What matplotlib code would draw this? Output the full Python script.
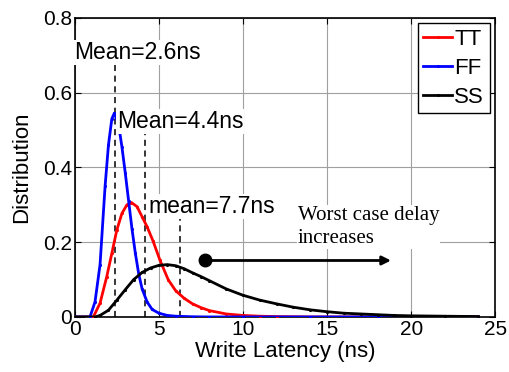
import matplotlib
matplotlib.use("Agg")
import matplotlib.pyplot as plt

plt.rcParams["font.family"] = ["Liberation Sans", "DejaVu Sans"]

# Write latency distributions per process corner (ns vs. probability density)
ff_x = [0.0, 0.5, 0.9, 1.2, 1.5, 1.8, 2.0, 2.2, 2.35, 2.6, 2.8, 3.0, 3.2, 3.4, 3.6,
        3.8, 4.0, 4.3, 4.6, 5.0, 5.5, 6.0, 7.0, 8.0, 10.0, 14.0, 18.0, 24.0]
ff_y = [0.0, 0.0, 0.0, 0.04, 0.14, 0.35, 0.46, 0.53, 0.545, 0.515, 0.455, 0.385, 0.31,
        0.235, 0.17, 0.115, 0.075, 0.04, 0.02, 0.01, 0.004, 0.002, 0.0005, 0.0, 0.0,
        0.0, 0.0, 0.0]

tt_x = [0.0, 0.5, 1.1, 1.5, 1.9, 2.2, 2.5, 2.8, 3.1, 3.37, 3.7, 4.0, 4.3, 4.66, 5.06,
        5.56, 6.0, 6.5, 7.0, 7.5, 8.0, 9.0, 10.0, 11.0, 12.0, 14.0, 18.0, 24.0]
tt_y = [0.0, 0.0, 0.0, 0.037, 0.108, 0.17, 0.233, 0.277, 0.30, 0.306, 0.295, 0.268,
        0.241, 0.202, 0.152, 0.099, 0.07, 0.05, 0.035, 0.025, 0.017, 0.008, 0.004,
        0.002, 0.001, 0.0, 0.0, 0.0]

ss_x = [0.0, 0.5, 1.2, 1.5, 2.0, 2.5, 3.0, 3.5, 4.0, 4.5, 5.0, 5.5, 6.0, 6.5, 7.0,
        7.5, 8.0, 9.0, 10.0, 11.0, 12.0, 13.0, 14.0, 15.0, 16.0, 17.0, 18.0, 19.0,
        20.0, 22.0, 24.0]
ss_y = [0.0, 0.0, 0.0, 0.004, 0.018, 0.045, 0.073, 0.10, 0.119, 0.131, 0.138, 0.14,
        0.137, 0.129, 0.118, 0.108, 0.097, 0.075, 0.058, 0.045, 0.035, 0.026, 0.019,
        0.014, 0.010, 0.008, 0.006, 0.004, 0.003, 0.002, 0.001]

series_names = ["TT", "FF", "SS"]
series_colors = ["red", "blue", "black"]

# Dashed reference lines: position and height
ref_x = [2.38, 4.17, 6.25]
ref_top = [0.706, 0.519, 0.267]
mean_labels = ["Mean=2.6ns", "Mean=4.4ns", "mean=7.7ns"]

x_ticks = [0, 5, 10, 15, 20, 25]
y_ticks = [0, 0.2, 0.4, 0.6, 0.8]

fig = plt.figure(figsize=(5.09, 3.72), dpi=100)
ax = fig.add_axes([0.147, 0.148, 0.826, 0.804])

for xs, ys, name, col in zip([tt_x, ff_x, ss_x], [tt_y, ff_y, ss_y],
                             series_names, series_colors):
    ax.plot(xs, ys, color=col, lw=2.0, marker=".", markersize=2.5, label=name,
            zorder=3)

for xr, top in zip(ref_x, ref_top):
    ax.plot([xr, xr], [0, top], color="black", lw=1.1, ls=(0, (4, 3)), zorder=2)

txt_bg = dict(facecolor="white", edgecolor="none", pad=0.5)
label_pos = [(-0.05, 0.69), (2.5, 0.505), (4.35, 0.278)]
for (tx, ty), lab in zip(label_pos, mean_labels):
    ax.text(tx, ty, lab, fontsize=16.5, ha="left", va="baseline",
            bbox=txt_bg, zorder=4)

# Multi-line text: baseline anchors the last line
ax.text(13.27, 0.198, "Worst case delay\nincreases", fontsize=15,
        family=["Liberation Serif", "DejaVu Serif"], ha="left", va="baseline",
        linespacing=1.3, bbox=txt_bg, zorder=4)

# Arrow showing the tail shift
ax.annotate("", xy=(18.8, 0.151), xytext=(7.74, 0.151),
            arrowprops=dict(arrowstyle="-|>", color="black", lw=2.0,
                            mutation_scale=13, shrinkA=0, shrinkB=0), zorder=5)
ax.plot([7.74], [0.153], marker="o", color="black", markersize=9, zorder=6)

ax.set_xlim(0, 25)
ax.set_ylim(0, 0.8)
ax.set_xticks(x_ticks)
ax.set_yticks(y_ticks)
ax.set_yticklabels(["0", "0.2", "0.4", "0.6", "0.8"])
ax.tick_params(direction="in", top=True, right=True, labelsize=15, length=4,
               width=0.8, pad=2)
ax.grid(True, color="#a0a0a0", lw=0.8)
ax.set_axisbelow(True)
for s in ax.spines.values():
    s.set_linewidth(1.2)

ax.set_xlabel("Write Latency (ns)", fontsize=16, labelpad=2)
ax.set_ylabel("Distribution", fontsize=16, labelpad=8)

leg = ax.legend(loc="upper right", fontsize=16, handlelength=1.3,
                handletextpad=0.1, labelspacing=0.35, borderpad=0.25,
                borderaxespad=0.25, fancybox=False, framealpha=1,
                edgecolor="black", markerscale=1.0)
leg.get_frame().set_linewidth(1.0)

fig.savefig("out.png", dpi=100)
